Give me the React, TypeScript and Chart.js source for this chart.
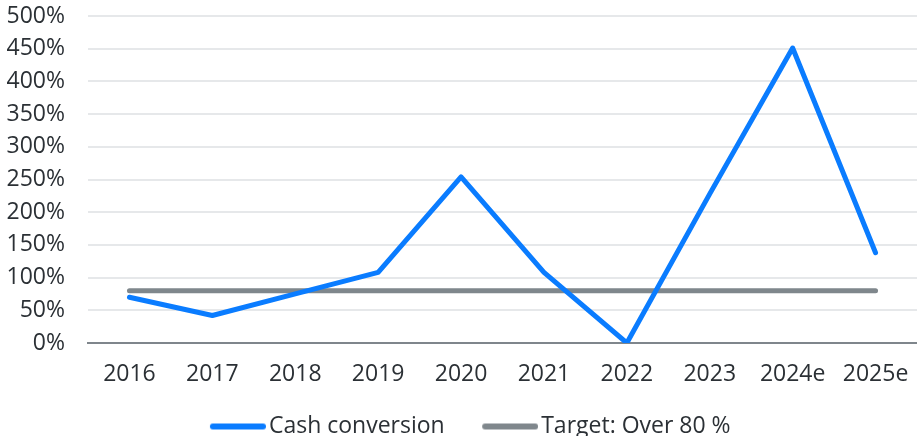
import React, { useEffect, useRef } from "react";
import { Chart, registerables } from "chart.js";

Chart.register(...registerables);

const categories = ["2016", "2017", "2018", "2019", "2020", "2021", "2022", "2023", "2024e", "2025e"];
const cashConversion = [70, 42, 75, 108, 254, 108, 0, 228, 451, 138];
const target = [80, 80, 80, 80, 80, 80, 80, 80, 80, 80];
const seriesNames = ["Cash conversion", "Target: Over 80 %"];
const seriesColors = ["#0a7cff", "#7f878c"];

const FONT = "'Open Sans', sans-serif";
const TEXT = "#2b3035";
const FS = 23;

function legendLine(color: string): HTMLCanvasElement {
  const c = document.createElement("canvas");
  c.width = 74;
  c.height = 8;
  const g = c.getContext("2d")!;
  g.strokeStyle = color;
  g.lineWidth = 6;
  g.lineCap = "round";
  g.beginPath();
  g.moveTo(74 - 56 + 3, 4);
  g.lineTo(74 - 3, 4);
  g.stroke();
  return c;
}

const legendShift = {
  id: "legendShift",
  afterLayout(chart: any) {
    const l = chart.legend;
    if (l) {
      l.left += 7;
      l.right += 7;
    }
  },
};

export default function App() {
  const ref = useRef<HTMLCanvasElement | null>(null);
  useEffect(() => {
    if (!ref.current) return;
    const icons = seriesColors.map(legendLine);
    const chart = new Chart(ref.current, {
      type: "line",
      data: {
        labels: categories,
        datasets: [
          { label: seriesNames[0], data: cashConversion, borderColor: seriesColors[0], backgroundColor: seriesColors[0], borderWidth: 5, pointRadius: 0, borderCapStyle: "round", borderJoinStyle: "round" },
          { label: seriesNames[1], data: target, borderColor: seriesColors[1], backgroundColor: seriesColors[1], borderWidth: 5, pointRadius: 0, borderCapStyle: "round", borderJoinStyle: "round" },
        ],
      },
      plugins: [legendShift],
      options: {
        animation: false,
        responsive: true,
        maintainAspectRatio: false,
        layout: { padding: { left: 0, right: 0, top: 0, bottom: 0 } },
        plugins: {
          tooltip: { enabled: false },
          legend: {
            position: "bottom",
            labels: {
              font: { family: FONT, size: FS },
              color: TEXT,
              usePointStyle: true,
              pointStyleWidth: 57,
              boxHeight: 8,
              padding: 28,
              generateLabels: (ch: any) => {
                const items = Chart.defaults.plugins.legend.labels.generateLabels(ch);
                return items.map((it: any, i: number) => ({ ...it, pointStyle: icons[i] }));
              },
            },
          },
        },
        scales: {
          x: {
            offset: true,
            grid: { display: false, drawTicks: false },
            border: { display: true, color: "#7f868c", width: 2 },
            ticks: { font: { family: FONT, size: FS }, color: TEXT, padding: 18, maxRotation: 0, autoSkip: false },
            afterFit: (s: any) => {
              s.height = 44;
              s.paddingLeft = 0;
              s.paddingRight = 0;
            },
          },
          y: {
            min: 0,
            max: 500,
            grid: { color: "#e6e8ea", lineWidth: 2, drawTicks: false },
            border: { display: false },
            ticks: { stepSize: 50, font: { family: FONT, size: FS }, color: TEXT, padding: 23, callback: (v: any) => v + "%" },
            afterFit: (s: any) => {
              s.width = 88;
              s.paddingTop = 16;
              s.paddingBottom = 0;
            },
          },
        },
      },
    });
    return () => chart.destroy();
  }, []);
  return (
    <div style={{ position: "fixed", left: 0, top: 0, width: 917, height: 448 }}>
      <canvas ref={ref} />
    </div>
  );
}
